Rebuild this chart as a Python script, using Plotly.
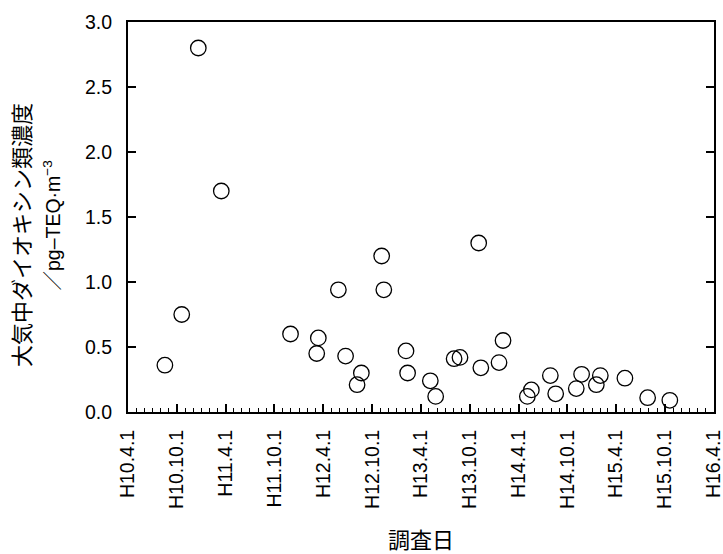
import plotly.graph_objects as go

# Survey dates and dioxin concentrations (pg-TEQ/m3)
survey_dates = [
    "1998-08-17", "1998-10-19", "1998-12-20", "1999-03-16", "1999-11-30",
    "2000-03-13", "2000-03-07", "2000-05-27", "2000-06-23", "2000-08-05",
    "2000-08-21", "2000-11-05", "2000-11-13", "2001-02-04", "2001-02-10",
    "2001-05-06", "2001-05-26", "2001-08-03", "2001-08-25", "2001-11-03",
    "2001-11-11", "2002-01-18", "2002-02-02", "2002-05-04", "2002-05-19",
    "2002-07-29", "2002-08-18", "2002-11-03", "2002-11-23", "2003-01-17",
    "2003-02-01", "2003-05-04", "2003-07-28", "2003-10-19",
]
concentrations = [
    0.36, 0.75, 2.80, 1.70, 0.60,
    0.57, 0.45, 0.94, 0.43, 0.21,
    0.30, 1.20, 0.94, 0.47, 0.30,
    0.24, 0.12, 0.41, 0.42, 1.30,
    0.34, 0.38, 0.55, 0.12, 0.17,
    0.28, 0.14, 0.18, 0.29, 0.21,
    0.28, 0.26, 0.11, 0.09,
]

# Half-year ticks labelled in Heisei era notation
tick_dates = [
    "1998-04-01", "1998-10-01", "1999-04-01", "1999-10-01", "2000-04-01",
    "2000-10-01", "2001-04-01", "2001-10-01", "2002-04-01", "2002-10-01",
    "2003-04-01", "2003-10-01", "2004-04-01",
]
tick_labels = [
    "H10.4.1", "H10.10.1", "H11.4.1", "H11.10.1", "H12.4.1",
    "H12.10.1", "H13.4.1", "H13.10.1", "H14.4.1", "H14.10.1",
    "H15.4.1", "H15.10.1", "H16.4.1",
]

FONT = "Arial, Liberation Sans, Noto Sans CJK JP, sans-serif"
JP_FONT = "Noto Sans CJK JP, sans-serif"

fig = go.Figure(
    go.Scatter(
        x=survey_dates,
        y=concentrations,
        mode="markers",
        marker=dict(symbol="circle-open", size=15.5, color="black",
                    line=dict(width=1.3, color="black")),
        showlegend=False,
    )
)

fig.update_layout(
    width=723,
    height=554,
    margin=dict(l=128.3, r=8.7, t=22, b=141.7),
    paper_bgcolor="white",
    plot_bgcolor="white",
    font=dict(family=FONT, size=19.5, color="black"),
    xaxis=dict(
        type="date",
        range=["1998-04-01", "2004-04-01 06:00"],
        tickmode="array",
        tickvals=tick_dates,
        ticktext=tick_labels,
        tickangle=-90,
        ticklabeloverflow="allow",
        ticks="inside",
        ticklen=8,
        tickwidth=1.5,
        tickcolor="black",
        ticklabelstandoff=8,
        minor=dict(dtick="M1", tick0="1998-04-01", ticks="inside",
                   ticklen=4, tickwidth=1.3, tickcolor="black"),
        showline=True,
        linewidth=2,
        linecolor="black",
        mirror=True,
        showgrid=False,
        zeroline=False,
        automargin=False,
    ),
    yaxis=dict(
        range=[0, 3],
        dtick=0.5,
        tickformat=".1f",
        ticks="inside",
        ticklen=8,
        tickwidth=1.5,
        tickcolor="black",
        ticklabelstandoff=10,
        showline=True,
        linewidth=2,
        linecolor="black",
        mirror="ticks",
        showgrid=False,
        zeroline=False,
        automargin=False,
    ),
    annotations=[
        dict(text="大気中ダイオキシン類濃度", textangle=-90,
             xref="paper", yref="paper", x=-0.1840, y=0.4543,
             xanchor="center", yanchor="middle", showarrow=False,
             font=dict(family=JP_FONT, size=22, color="black")),
        dict(text="／pg–TEQ·m<sup>−3</sup>", textangle=-90,
             xref="paper", yref="paper", x=-0.1302, y=0.4773,
             xanchor="center", yanchor="middle", showarrow=False,
             font=dict(family=FONT, size=19.5, color="black")),
        dict(text="調査日",
             xref="paper", yref="paper", x=0.5, y=-0.3240,
             xanchor="center", yanchor="middle", showarrow=False,
             borderpad=0,
             font=dict(family=JP_FONT, size=22, color="black")),
    ],
)

fig.write_html("out.html")
